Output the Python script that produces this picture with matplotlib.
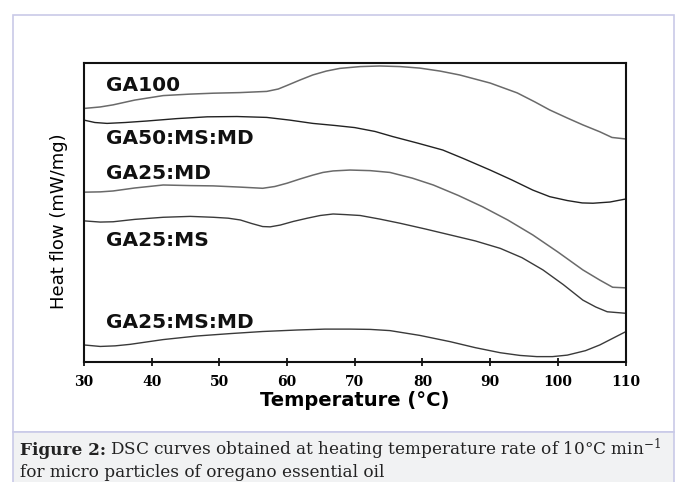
import matplotlib
matplotlib.use("Agg")
import matplotlib.pyplot as plt
from matplotlib.patches import Rectangle

# temperature (degC) and heat flow (arbitrary units, 0 = bottom, 100 = top of frame)
t_ga100 = [30, 32.4, 34.3, 37.5, 41.7, 45.7, 49.1, 53.0, 57.0, 58.7, 60.0, 61.9, 63.8, 65.8, 67.8,
           70.8, 73.7, 76.7, 79.6, 82.6, 85.5, 90.0, 94.0, 96.6, 98.8, 101.4, 103.7, 106.2, 108.0, 110]
hf_ga100 = [84.8, 85.3, 86.0, 87.6, 89.1, 89.6, 89.9, 90.1, 90.5, 91.3, 92.5, 94.3, 96.0, 97.3, 98.2,
            98.8, 99.0, 98.8, 98.3, 97.3, 96.0, 93.3, 90.0, 87.0, 84.3, 81.6, 79.3, 77.0, 75.1, 74.6]

t_ga50 = [30, 31.6, 33.4, 36.1, 39.3, 43.7, 48.2, 52.6, 57.0, 60.4, 63.8, 67.1, 70.0, 73.0, 75.6,
          79.3, 83.0, 86.0, 90.0, 93.2, 96.3, 98.8, 101.4, 103.6, 105.2, 107.7, 110]
hf_ga50 = [80.9, 80.1, 79.8, 80.1, 80.6, 81.4, 82.0, 82.1, 81.8, 80.9, 79.8, 79.1, 78.4, 77.1, 75.4,
           73.2, 70.9, 68.1, 64.2, 60.9, 57.5, 55.3, 54.0, 53.2, 53.1, 53.5, 54.5]

t_ga25md = [30, 32.4, 34.3, 37.5, 41.7, 45.7, 49.1, 53.0, 56.4, 58.2, 60.0, 61.9, 63.8, 65.3, 66.8,
            69.3, 72.3, 75.2, 78.5, 81.6, 85.3, 88.9, 92.6, 96.3, 100.0, 103.7, 106.2, 108.1, 110]
hf_ga25md = [56.8, 56.9, 57.2, 58.2, 59.2, 59.0, 58.9, 58.5, 58.1, 58.7, 59.8, 61.2, 62.5, 63.4, 63.9,
             64.2, 64.0, 63.4, 61.5, 59.2, 55.7, 51.9, 47.5, 42.5, 36.8, 30.8, 27.4, 25.0, 24.8]

t_ga25ms = [30, 32.4, 34.3, 37.5, 41.7, 45.7, 49.1, 51.3, 53.1, 54.8, 56.4, 57.5, 59.0, 60.9, 63.0, 64.9,
            66.8, 68.6, 70.8, 73.7, 76.7, 80.4, 84.1, 87.8, 91.5, 94.7, 97.8, 100.8, 103.7, 105.6, 107.3, 110]
hf_ga25ms = [47.2, 46.8, 46.9, 47.7, 48.4, 48.7, 48.4, 48.1, 47.5, 46.3, 45.3, 45.2, 45.8, 47.0, 48.1, 49.0,
             49.5, 49.3, 49.0, 47.8, 46.4, 44.5, 42.5, 40.5, 38.0, 34.9, 30.8, 25.9, 20.7, 18.4, 16.8, 16.3]

t_ga25msmd = [30, 32.4, 34.6, 36.8, 41.7, 46.7, 51.6, 56.4, 61.5, 65.6, 69.3, 72.3, 75.2, 79.6, 84.1,
              87.8, 91.5, 94.4, 96.9, 99.2, 101.4, 104.1, 106.2, 108.1, 110]
hf_ga25msmd = [5.7, 5.2, 5.4, 5.9, 7.5, 8.7, 9.5, 10.2, 10.7, 11.0, 11.0, 10.9, 10.5, 8.9, 6.8,
               4.8, 3.1, 2.2, 1.8, 1.8, 2.3, 3.8, 5.7, 7.9, 10.1]

curve_labels = ["GA100", "GA50:MS:MD", "GA25:MD", "GA25:MS", "GA25:MS:MD"]
label_y = [92.6, 74.6, 62.9, 40.8, 13.3]
xticks = [30, 40, 50, 60, 70, 80, 90, 100, 110]

W, H = 678, 482
fig = plt.figure(figsize=(W / 100, H / 100), dpi=100)


def fx(px):
    return px / W


def fy(py):
    return 1 - py / H


# outer frame and caption strip
border = "#c9cae8"
fig.patches.append(Rectangle((fx(13), fy(432)), fx(674) - fx(13), fy(15) - fy(432),
                             transform=fig.transFigure, facecolor="white",
                             edgecolor=border, lw=1.2, zorder=-5))
fig.patches.append(Rectangle((fx(13), fy(490)), fx(674) - fx(13), fy(432) - fy(490),
                             transform=fig.transFigure, facecolor="#f1f2f3",
                             edgecolor=border, lw=1.2, zorder=-5))

ax = fig.add_axes([fx(84), fy(362), fx(625.5) - fx(84), fy(63) - fy(362)])
ax.set_facecolor("none")

line_kw = dict(solid_joinstyle="round", solid_capstyle="round")
ax.plot(t_ga100, hf_ga100, color="#6a6a6a", lw=1.1, **line_kw)
ax.plot(t_ga50, hf_ga50, color="#222222", lw=1.0, **line_kw)
ax.plot(t_ga25md, hf_ga25md, color="#6a6a6a", lw=1.1, **line_kw)
ax.plot(t_ga25ms, hf_ga25ms, color="#3a3a3a", lw=1.0, **line_kw)
ax.plot(t_ga25msmd, hf_ga25msmd, color="#3a3a3a", lw=1.0, **line_kw)

for name, y in zip(curve_labels, label_y):
    ax.text(33.3, y, name, fontsize=14.5, fontweight="bold", color="#111111",
            family="DejaVu Sans", ha="left", va="center")

ax.set_xlim(30, 110)
ax.set_ylim(0, 100)
ax.set_xticks(xticks)
ax.set_xticklabels([str(v) for v in xticks], family="DejaVu Serif",
                   fontweight="bold", fontsize=10)
ax.set_yticks([])
ax.tick_params(axis="x", direction="inout", length=6, width=1.2, pad=6, color="black")
for s in ax.spines.values():
    s.set_linewidth(1.5)
    s.set_color("#111111")

ax.set_xlabel("Temperature (°C)", fontsize=14, fontweight="bold",
              family="DejaVu Sans", labelpad=2)
ax.set_ylabel("Heat flow (mW/mg)", fontsize=13, family="DejaVu Sans")
ax.yaxis.set_label_coords(-0.030, 0.472)

# caption
fig.canvas.draw()
cap_y = fy(455)
cap_size = 12.2
t1 = fig.text(fx(20), cap_y, "Figure 2:", fontsize=cap_size, fontweight="bold",
              family="DejaVu Serif", color="#222222", va="baseline")
fig.canvas.draw()
bb = t1.get_window_extent()
plt.rcParams["mathtext.fontset"] = "dejavuserif"
fig.text(bb.x1 / W + fx(4), cap_y,
         "DSC curves obtained at heating temperature rate of 10°C min$^{-1}$",
         fontsize=cap_size, family="DejaVu Serif", color="#222222", va="baseline")
fig.text(fx(20), fy(477), "for micro particles of oregano essential oil",
         fontsize=cap_size, family="DejaVu Serif", color="#222222", va="baseline")

fig.savefig("out.png", dpi=100)
